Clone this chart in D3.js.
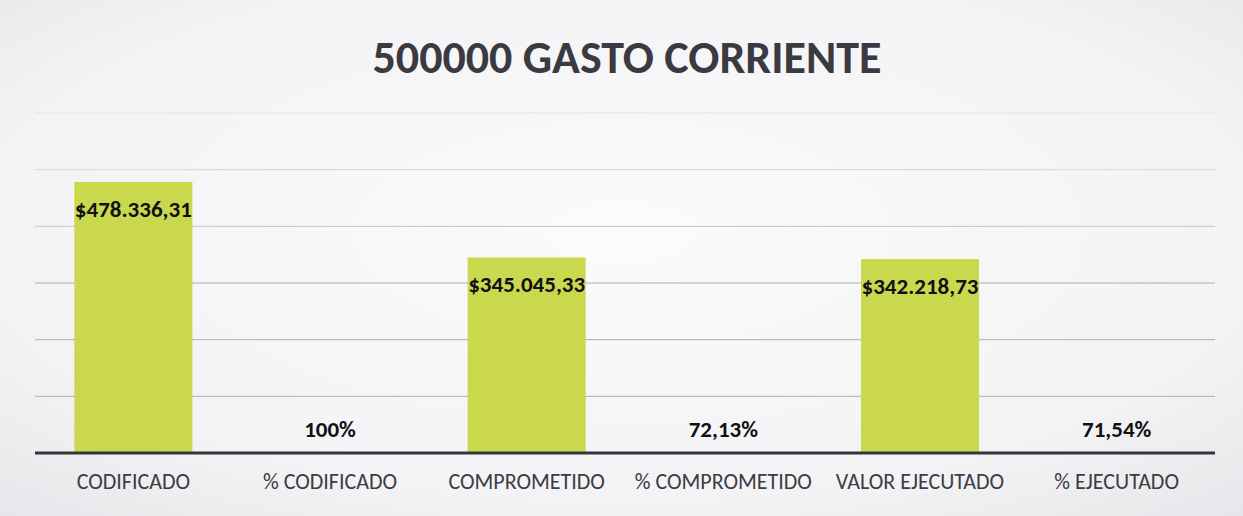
<!DOCTYPE html>
<html>
<head>
<meta charset="utf-8">
<script src="https://cdn.jsdelivr.net/npm/d3@7"></script>
<style>
  html, body { margin: 0; padding: 0; background: #f1f1f3; }
  svg { display: block; }
</style>
</head>
<body>
<svg id="chart" width="1243" height="516"></svg>
<script>
const title = "500000 GASTO CORRIENTE";
const categories = ["CODIFICADO", "% CODIFICADO", "COMPROMETIDO", "% COMPROMETIDO", "VALOR EJECUTADO", "% EJECUTADO"];
const values = [478336.31, 1, 345045.33, 0.7213, 342218.73, 0.7154];
const kinds = ["money", "pct", "money", "pct", "money", "pct"];
const yTicks = [0, 100000, 200000, 300000, 400000, 500000, 600000];

const W = 1243, H = 516;
const margin = { left: 35, right: 28, top: 113, bottom: 63 };

const svg = d3.select("#chart");

const defs = svg.append("defs");
const grad = defs.append("radialGradient").attr("id", "bg").attr("cx", "50%").attr("cy", "45%").attr("r", "75%");
grad.append("stop").attr("offset", "0%").attr("stop-color", "#fbfbfc");
grad.append("stop").attr("offset", "70%").attr("stop-color", "#f3f3f5");
grad.append("stop").attr("offset", "100%").attr("stop-color", "#e6e6ea");
svg.append("rect").attr("width", W).attr("height", H).attr("fill", "url(#bg)");

const x = d3.scaleBand()
  .domain(categories)
  .range([margin.left, W - margin.right])
  .paddingInner(0.4)
  .paddingOuter(0.2);

const y = d3.scaleLinear()
  .domain([0, d3.max(yTicks)])
  .range([H - margin.bottom, margin.top]);

const locale = d3.formatLocale({ decimal: ",", thousands: ".", grouping: [3], currency: ["$", ""] });
const fMoney = locale.format("$,.2f");
const fPct = locale.format(".2%");
const fPct0 = locale.format(".0%");
function label(v, k) {
  if (k === "money") return fMoney(v);
  return v === 1 ? fPct0(v) : fPct(v);
}

const FONT = "Carlito, Lato, 'Open Sans', sans-serif";

// title
svg.append("text")
  .attr("x", 627).attr("y", 73)
  .attr("text-anchor", "middle")
  .attr("font-family", FONT)
  .attr("font-weight", "bold")
  .attr("font-size", 46)
  .attr("fill", "#3a3a40")
  .text(title);

// gridlines
svg.append("g")
  .selectAll("line")
  .data(yTicks.filter(t => t > 0))
  .join("line")
  .attr("x1", margin.left).attr("x2", W - margin.right)
  .attr("y1", d => y(d)).attr("y2", d => y(d))
  .attr("stroke", d => d >= 600000 ? "#e4e4e7" : (d >= 500000 ? "#d6d6da" : (d >= 400000 ? "#c4c4c9" : "#aeaeb4")))
  .attr("stroke-width", 1);

// bars
svg.append("g")
  .selectAll("rect")
  .data(values)
  .join("rect")
  .attr("x", (d, i) => x(categories[i]))
  .attr("width", x.bandwidth())
  .attr("y", d => y(d))
  .attr("height", d => y(0) - y(d))
  .attr("fill", "#c9d84c");

// axis line
svg.append("line")
  .attr("x1", margin.left).attr("x2", W - margin.right)
  .attr("y1", y(0)).attr("y2", y(0))
  .attr("stroke", "#34343a")
  .attr("stroke-width", 3);

// data labels
svg.append("g")
  .selectAll("text")
  .data(values)
  .join("text")
  .attr("x", (d, i) => x(categories[i]) + x.bandwidth() / 2)
  .attr("y", (d, i) => kinds[i] === "money" ? y(d) + 35 : y(d) - 16)
  .attr("text-anchor", "middle")
  .attr("font-family", FONT)
  .attr("font-weight", "bold")
  .attr("font-size", 23)
  .attr("fill", "#111114")
  .text((d, i) => label(d, kinds[i]));

// category labels
svg.append("g")
  .selectAll("text")
  .data(categories)
  .join("text")
  .attr("x", d => x(d) + x.bandwidth() / 2)
  .attr("y", y(0) + 36)
  .attr("text-anchor", "middle")
  .attr("font-family", FONT)
  .attr("font-size", 22)
  .attr("fill", "#3c3c44")
  .text(d => d);
</script>
</body>
</html>
